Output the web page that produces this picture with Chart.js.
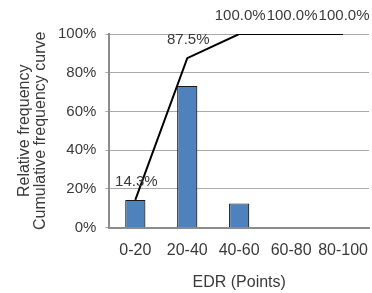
<!DOCTYPE html>
<html>
<head>
<meta charset="utf-8">
<script src="https://cdn.jsdelivr.net/npm/chart.js@4"></script>
<style>
  html, body { margin: 0; padding: 0; background: #fff; }
  #wrap { width: 372px; height: 293px; }
</style>
</head>
<body>
<div id="wrap"><canvas id="edrChart" width="372" height="293"></canvas></div>
<script>
// EDR distribution: relative frequency bars + cumulative curve
const categories = ['0-20', '20-40', '40-60', '60-80', '80-100'];
const relativeFreq = [14.3, 73.2, 12.5, 0, 0];
const cumulativeFreq = [14.3, 87.5, 100.0, 100.0, 100.0];
const yTicks = [0, 20, 40, 60, 80, 100];

Chart.defaults.font.family = '"Liberation Sans", Arial, sans-serif';
Chart.defaults.font.size = 16;
Chart.defaults.color = '#3a3a3a';

// draws the percent labels above the cumulative line
const lineLabels = {
    id: 'lineLabels',
    afterDatasetsDraw(chart) {
        const c = chart.ctx;
        const meta = chart.getDatasetMeta(1);
        c.save();
        c.font = '15px "Liberation Sans", Arial, sans-serif';
        c.fillStyle = '#3a3a3a';
        c.textAlign = 'center';
        c.textBaseline = 'middle';
        meta.data.forEach((pt, i) => {
            c.fillText(cumulativeFreq[i].toFixed(1) + '%', pt.x + 1, pt.y - 18);
        });
        c.restore();
    }
};

const ctx = document.getElementById('edrChart').getContext('2d');
new Chart(ctx, {
    type: 'bar',
    data: {
        labels: categories,
        datasets: [{
            label: 'Relative frequency',
            data: relativeFreq,
            backgroundColor: '#4f81bd',
            borderColor: '#1a1a1a',
            borderWidth: 1.2,
            barPercentage: 0.39,
            categoryPercentage: 1,
            order: 2
        },
        {
            type: 'line',
            label: 'Cumulative frequency curve',
            data: cumulativeFreq,
            borderColor: '#000',
            borderWidth: 2,
            pointRadius: 0,
            tension: 0,
            fill: false,
            order: 1
        }]
    },
    options: {
        responsive: false,
        animation: false,
        layout: {
            padding: { top: 34, right: 3, left: 15, bottom: 1 }
        },
        plugins: {
            legend: { display: false },
            tooltip: { enabled: false }
        },
        scales: {
            y: {
                min: 0,
                max: 100,
                afterBuildTicks: axis => { axis.ticks = yTicks.map(v => ({ value: v })); },
                ticks: {
                    callback: v => v + '%',
                    font: { size: 15 },
                    padding: 9
                },
                grid: {
                    color: '#aaaaaa',
                    tickLength: 4
                },
                border: { color: '#8c8c8c', width: 2 },
                title: {
                    display: true,
                    text: ['Relative frequency', 'Cumulative frequency curve'],
                    font: { size: 16, lineHeight: 1.0 },
                    padding: { top: 2, bottom: 0 }
                }
            },
            x: {
                afterFit: s => { s.paddingRight = 0; s.paddingLeft = 0; },
                grid: { display: false, drawTicks: false },
                border: { color: '#8c8c8c', width: 2 },
                ticks: { padding: 13, maxRotation: 0, minRotation: 0, autoSkip: false },
                title: {
                    display: true,
                    text: 'EDR (Points)',
                    font: { size: 16 },
                    padding: { top: 0, bottom: 0 }
                }
            }
        }
    },
    plugins: [lineLabels]
});
</script>
</body>
</html>
